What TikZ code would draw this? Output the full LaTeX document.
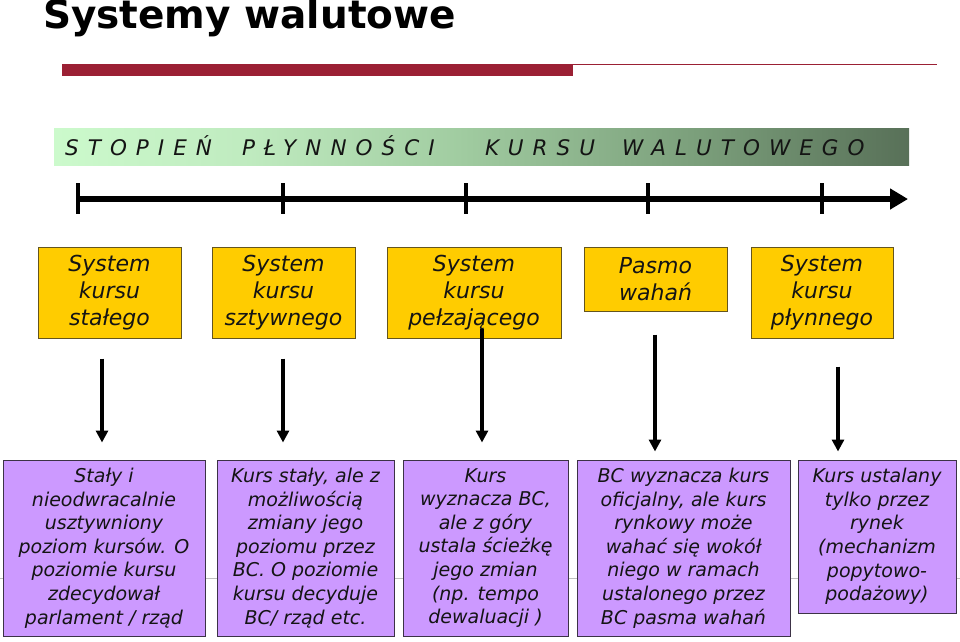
\documentclass[tikz,border=0pt]{standalone}
\usepackage{fontspec}
\setmainfont{DejaVu Sans}
\newfontfamily\spacedfont[LetterSpace=42]{DejaVu Sans}
\usetikzlibrary{arrows.meta,calc}
\definecolor{barred}{RGB}{155,32,52}
\definecolor{ybox}{RGB}{255,204,0}
\definecolor{yedge}{RGB}{100,85,30}
\definecolor{pbox}{RGB}{204,153,255}
\definecolor{pedge}{RGB}{60,50,70}
\definecolor{txt}{RGB}{20,20,20}
\pgfdeclarehorizontalshading{greenbar}{100bp}{rgb(0bp)=(0.80,0.98,0.80); rgb(25bp)=(0.80,0.98,0.80); rgb(36.5bp)=(0.75,0.92,0.75); rgb(48.7bp)=(0.63,0.80,0.63); rgb(62.8bp)=(0.48,0.62,0.48); rgb(75bp)=(0.345,0.44,0.345); rgb(100bp)=(0.345,0.44,0.345)}
\tikzset{
  ybx/.style={draw=yedge, line width=1pt, fill=ybox, inner sep=0pt, align=center,
    text=txt, font=\itshape\fontsize{22}{27}\selectfont},
  pbx/.style={draw=pedge, line width=1pt, fill=pbox, inner sep=0pt, align=center,
    text=txt, font=\itshape\fontsize{19}{23.6}\selectfont},
  downarr/.style={line width=4pt, -{Triangle[length=12pt,width=12pt]}},
  tick/.style={line width=4pt},
  gword/.style={anchor=base west, inner sep=0pt, text=txt,
    font=\spacedfont\itshape\fontsize{21.5}{21.5}\selectfont}
}
\begin{document}
\begin{tikzpicture}[x=1pt,y=-1pt]
\useasboundingbox (0,0) rectangle (960,641);
% title
\node[anchor=base west, inner sep=0pt, font=\bfseries\fontsize{39}{39}\selectfont] (title) at (43,28) {Systemy walutowe};
% red bar
\fill[barred] (62,64) rectangle (573,76);
\draw[barred, line width=1.2pt] (573,64.5) -- (937,64.5);
% gradient bar
\path[shading=greenbar] (54,128) rectangle (909,165);
\node[gword] (w1) at (65,155) {STOPIEŃ};
\node[gword] (w2) at (242,155) {PŁYNNOŚCI};
\node[gword] (w3) at (485,155) {KURSU};
\node[gword] (w4) at (622,155) {WALUTOWEGO};
% axis
\draw[line width=6pt, -{Triangle[length=18pt,width=20pt]}] (78,199) -- (908,199);
\foreach \x in {78,283,466,648,822} \draw[tick] (\x,183) -- (\x,214);
% gray footer line
\draw[black!25, line width=0.8pt] (0,578) -- (960,578);
% yellow boxes
\node[ybx, minimum width=143pt, minimum height=91pt] (y1) at (109.5,292.5) {System\\kursu\\stałego};
\node[ybx, minimum width=143pt, minimum height=91pt] (y2) at (283.5,292.5) {System\\kursu\\sztywnego};
\node[ybx, minimum width=174pt, minimum height=91pt] (y3) at (474,292.5) {System\\kursu\\pełzającego};
\node[ybx, minimum width=143pt, minimum height=64pt] (y4) at (655.5,279) {Pasmo\\wahań};
\node[ybx, minimum width=142pt, minimum height=91pt] (y5) at (822,292.5) {System\\kursu\\płynnego};
% purple boxes
\node[pbx, minimum width=202pt, minimum height=176pt] (p1) at (104,548) {Stały i\\nieodwracalnie\\usztywniony\\poziom kursów. O\\poziomie kursu\\zdecydował\\parlament / rząd};
\node[pbx, minimum width=177pt, minimum height=176pt] (p2) at (305.5,548) {Kurs stały, ale z\\możliwością\\zmiany jego\\poziomu przez\\BC. O poziomie\\kursu decyduje\\BC/ rząd etc.};
\node[pbx, minimum width=165pt, minimum height=176pt] (p3) at (485.5,548) {Kurs\\wyznacza BC,\\ale z góry\\ustala ścieżkę\\jego zmian\\(np. tempo\\dewaluacji )};
\node[pbx, minimum width=213pt, minimum height=176pt] (p4) at (683.5,548) {BC wyznacza kurs\\oficjalny, ale kurs\\rynkowy może\\wahać się wokół\\niego w ramach\\ustalonego przez\\BC pasma wahań};
\node[pbx, minimum width=158pt, minimum height=153pt] (p5) at (877,536.5) {Kurs ustalany\\tylko przez\\rynek\\(mechanizm\\popytowo-\\podażowy)};
% arrows
\draw[downarr] ($(y1.south)+(-7.5,20)$) -- ($(y1.south |- p1.north)+(-7.5,-17)$);
\draw[downarr] ($(y2.south)+(-0.5,20)$) -- ($(y2.south |- p2.north)+(-0.5,-17)$);
\draw[downarr] ($(y3.south)+(8,-10)$) -- ($(y3.south |- p3.north)+(8,-17)$);
\draw[downarr] ($(y4.south)+(-0.5,23)$) -- ($(y4.south |- p4.north)+(-0.5,-8)$);
\draw[downarr] ($(y5.south)+(16,28)$) -- ($(y5.south |- p5.north)+(16,-8)$);
\end{tikzpicture}
\end{document}
